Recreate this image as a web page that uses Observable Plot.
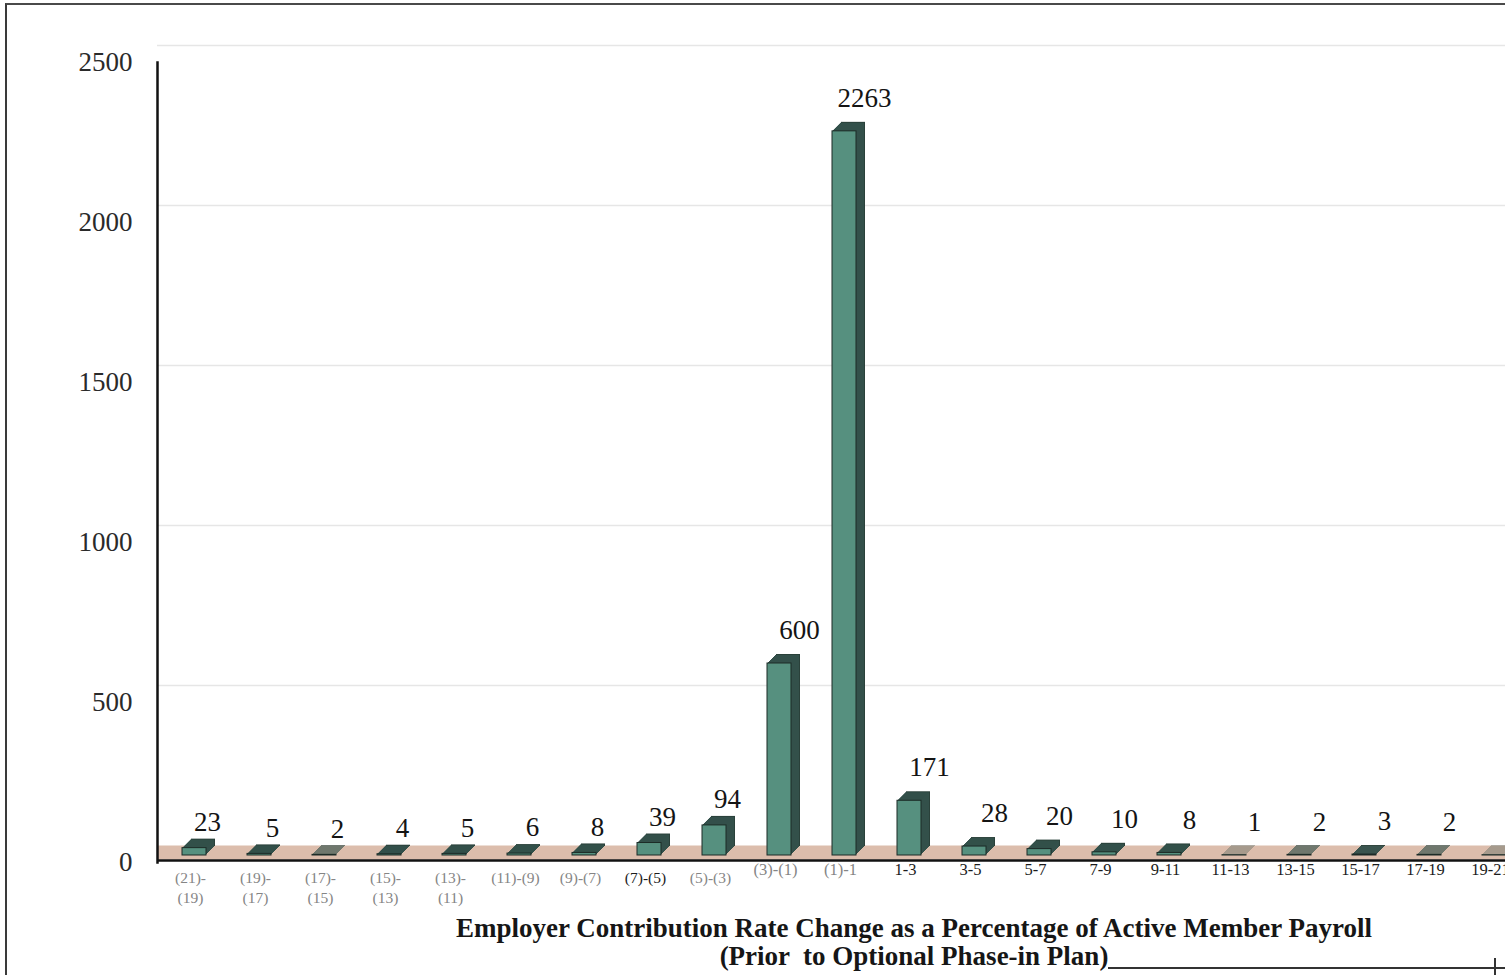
<!DOCTYPE html>
<html>
<head>
<meta charset="utf-8">
<script src="https://cdn.jsdelivr.net/npm/d3@7"></script>
<script src="https://cdn.jsdelivr.net/npm/@observablehq/plot@0.6"></script>
<style>
  html, body { margin: 0; padding: 0; background: #fff; overflow: hidden; }
  #page { position: relative; width: 1505px; height: 975px; overflow: hidden; background: #fff; }
  #sheet { position: absolute; left: 5px; top: 3px; width: 1560px; height: 1100px;
           border-left: 2px solid #3a3a3a; border-top: 2px solid #4a4a4a; }
  #sheet-foot { position: absolute; left: 1108px; top: 967px; width: 420px; border-top: 2px solid #333; }
  #sheet-mark { position: absolute; left: 1494px; top: 958px; height: 20px; border-left: 2px solid #333; }
  #chart { position: absolute; left: 0; top: 0; width: 1540px; }
  #chart svg { max-width: none !important; }
  #title { position: absolute; left: 0; top: 914px; width: 1828px; text-align: center;
           font: bold 27px "Liberation Serif", "DejaVu Serif", serif; line-height: 28px;
           color: #161616; white-space: pre; }
</style>
</head>
<body>
<div id="page">
  <div id="sheet"></div>
  <div id="chart"></div>
  <div id="title">Employer Contribution Rate Change as a Percentage of Active Member Payroll
(Prior  to Optional Phase-in Plan)</div>
  <div id="sheet-foot"></div>
  <div id="sheet-mark"></div>
</div>
<script>
// Rate-change bands (percent of active member payroll); parentheses mean a decrease
const categories = [
  "(21)-(19)", "(19)-(17)", "(17)-(15)", "(15)-(13)", "(13)-(11)", "(11)-(9)", "(9)-(7)",
  "(7)-(5)", "(5)-(3)", "(3)-(1)", "(1)-1", "1-3", "3-5", "5-7", "7-9", "9-11",
  "11-13", "13-15", "15-17", "17-19", "19-21"
];

// Number of employers in each band
const counts = [23, 5, 2, 4, 5, 6, 8, 39, 94, 600, 2263, 171, 28, 20, 10, 8, 1, 2, 3, 2, 1];

// Axis labels under each band (the widest ones wrap onto two lines)
const tickLabels = [
  "(21)-\n(19)", "(19)-\n(17)", "(17)-\n(15)", "(15)-\n(13)", "(13)-\n(11)", "(11)-(9)", "(9)-(7)",
  "(7)-(5)", "(5)-(3)", "(3)-(1)", "(1)-1", "1-3", "3-5", "5-7", "7-9", "9-11",
  "11-13", "13-15", "15-17", "17-19", "19-21"
];

const yTicks = [0, 500, 1000, 1500, 2000, 2500];

const rows = categories.map((c, i) => ({ band: c, count: counts[i], tick: tickLabels[i], index: i }));
const leftRows = rows.filter(d => d.index < 9);
const rightRows = rows.filter(d => d.index >= 9);

// pseudo-3D extrusion: stacked offset copies of each bar, back to front
const depth = 9;
const lift = -7;
const shift = 4;
const extrusion = d3.range(depth, 0, -1).map(k =>
  Plot.rectY(rows, { x: "band", y: "count", dx: shift + k, dy: lift - k, fill: k === depth ? "#2a413a" : "#33504a" })
);

const tickColor = d => (d.index === 7 || d.index >= 11) ? "#1b1b1b" : "#858585";

const chart = Plot.plot({
  width: 1540,
  height: 912,
  marginTop: 62,
  marginBottom: 50,
  marginLeft: 157,
  marginRight: 18,
  style: { fontFamily: "'Liberation Serif', 'DejaVu Serif', serif", fontSize: "27px", background: "transparent", color: "#222" },
  x: { domain: categories, range: [157.5, 1522.5], paddingInner: 0.63, paddingOuter: 0.315, axis: null },
  y: { domain: [0, 2500], axis: null, label: null },
  marks: [
    // faint back-wall gridlines
    Plot.ruleY(yTicks.slice(1), { dy: -17, stroke: "#e6e6e6", strokeWidth: 1.5 }),
    // floor slab
    Plot.ruleY([0], { dy: -10, stroke: "#dcbdac", strokeWidth: 14 }),
    ...extrusion,
    Plot.rectY(rows, { x: "band", y: "count", dx: shift, dy: lift, fill: "#56907f", stroke: "#1c2b27", strokeWidth: 1 }),
    // axes
    Plot.ruleY([0], { dy: -2, stroke: "#111", strokeWidth: 2.5 }),
    Plot.frame({ anchor: "left", stroke: "#111", strokeWidth: 2.5 }),
    Plot.axisY({ ticks: yTicks, tickSize: 0, tickPadding: 25, fontSize: 27, fill: "#2a2a2a", label: null, tickFormat: d => String(d) }),
    // band labels
    Plot.text(leftRows, { x: "band", text: "tick", frameAnchor: "bottom", lineAnchor: "top", dy: 6, fontSize: 15.5, lineHeight: 1.3, fill: tickColor }),
    Plot.text(rightRows, { x: "band", text: "tick", frameAnchor: "bottom", lineAnchor: "top", dy: 1, fontSize: 16.5, fill: tickColor }),
    // value labels
    Plot.text(leftRows, { x: "band", y: "count", text: d => String(d.count), dx: 17, dy: -33, fontSize: 27, fill: "#141414" }),
    Plot.text(rightRows, { x: "band", y: "count", text: d => String(d.count), dx: 24, dy: -40, fontSize: 27, fill: "#141414" })
  ]
});

document.getElementById("chart").appendChild(chart);
</script>
</body>
</html>
